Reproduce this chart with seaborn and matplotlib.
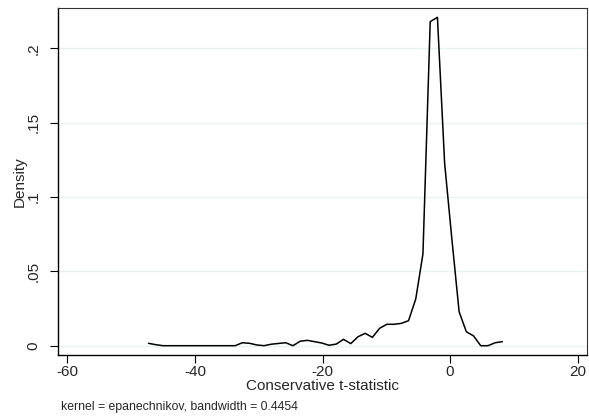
import numpy as np
import pandas as pd
import matplotlib
matplotlib.use("Agg")
import matplotlib.pyplot as plt
import seaborn as sns

# kernel density evaluation points (Stata kdensity, n = 50)
t_stat = [-47.30, -46.17, -45.03, -43.90, -42.77, -41.64, -40.50, -39.37, -38.24, -37.11,
          -35.97, -34.84, -33.71, -32.57, -31.44, -30.31, -29.18, -28.04, -26.91, -25.78,
          -24.65, -23.51, -22.38, -21.25, -20.12, -18.98, -17.85, -16.72, -15.58, -14.45,
          -13.32, -12.19, -11.05, -9.92, -8.79, -7.66, -6.52, -5.39, -4.26, -3.12,
          -1.99, -0.86, 0.27, 1.41, 2.54, 3.67, 4.80, 5.94, 7.07, 8.20]
density = [0.0016, 0.0007, 0.0, 0.0, 0.0, 0.0, 0.0, 0.0, 0.0, 0.0,
           0.0, 0.0, 0.0, 0.0020, 0.0016, 0.0005, 0.0, 0.0010, 0.0015, 0.0020,
           0.0, 0.0030, 0.0036, 0.0027, 0.0018, 0.0003, 0.0011, 0.0043, 0.0014, 0.0060,
           0.0083, 0.0056, 0.0117, 0.0144, 0.0144, 0.0150, 0.0168, 0.0314, 0.0617, 0.2179,
           0.2208, 0.1227, 0.0720, 0.0229, 0.0094, 0.0066, 0.0, 0.0, 0.0020, 0.0027]

x_ticks = [-60, -40, -20, 0, 20]
y_ticks = [0, 0.05, 0.1, 0.15, 0.2]
y_ticklabels = ["0", ".05", ".1", ".15", ".2"]

df = pd.DataFrame({"t": t_stat, "density": density})

sns.set_style("white")
plt.rcParams["font.family"] = ["Liberation Sans", "DejaVu Sans"]

fig = plt.figure(figsize=(5.89, 4.17), dpi=100)
ax = fig.add_axes([0.099, 0.1487, 0.897, 0.8315])

for yv in y_ticks:
    ax.axhline(yv, color="#eaf2f3", lw=1.0, zorder=0)

sns.lineplot(data=df, x="t", y="density", color="black", lw=1.1, ax=ax, sort=False)

ax.set_xlim(-61.44, 21.41)
ax.set_ylim(-0.00625, 0.2269)
ax.set_xticks(x_ticks)
ax.set_xticklabels([str(v) for v in x_ticks], fontsize=11)
ax.set_yticks(y_ticks)
ax.set_yticklabels(y_ticklabels, fontsize=11, rotation=90, va="center")
ax.tick_params(axis="both", direction="out", length=5.5, width=0.8, color="black",
               bottom=True, left=True)
ax.tick_params(axis="x", pad=1.5)
ax.tick_params(axis="y", pad=7.5)

ax.set_xlabel("Conservative t-statistic", fontsize=11, labelpad=0)
ax.set_ylabel("Density", fontsize=11, labelpad=0)

for side in ["left", "bottom"]:
    ax.spines[side].set_color("black")
    ax.spines[side].set_linewidth(1.0)
for side in ["top", "right"]:
    ax.spines[side].set_color("#333333")
    ax.spines[side].set_linewidth(0.8)

fig.text(0.1036, 0.024, "kernel = epanechnikov, bandwidth = 0.4454", fontsize=8.8,
         ha="left", va="center")

fig.savefig("out.png", dpi=100)
